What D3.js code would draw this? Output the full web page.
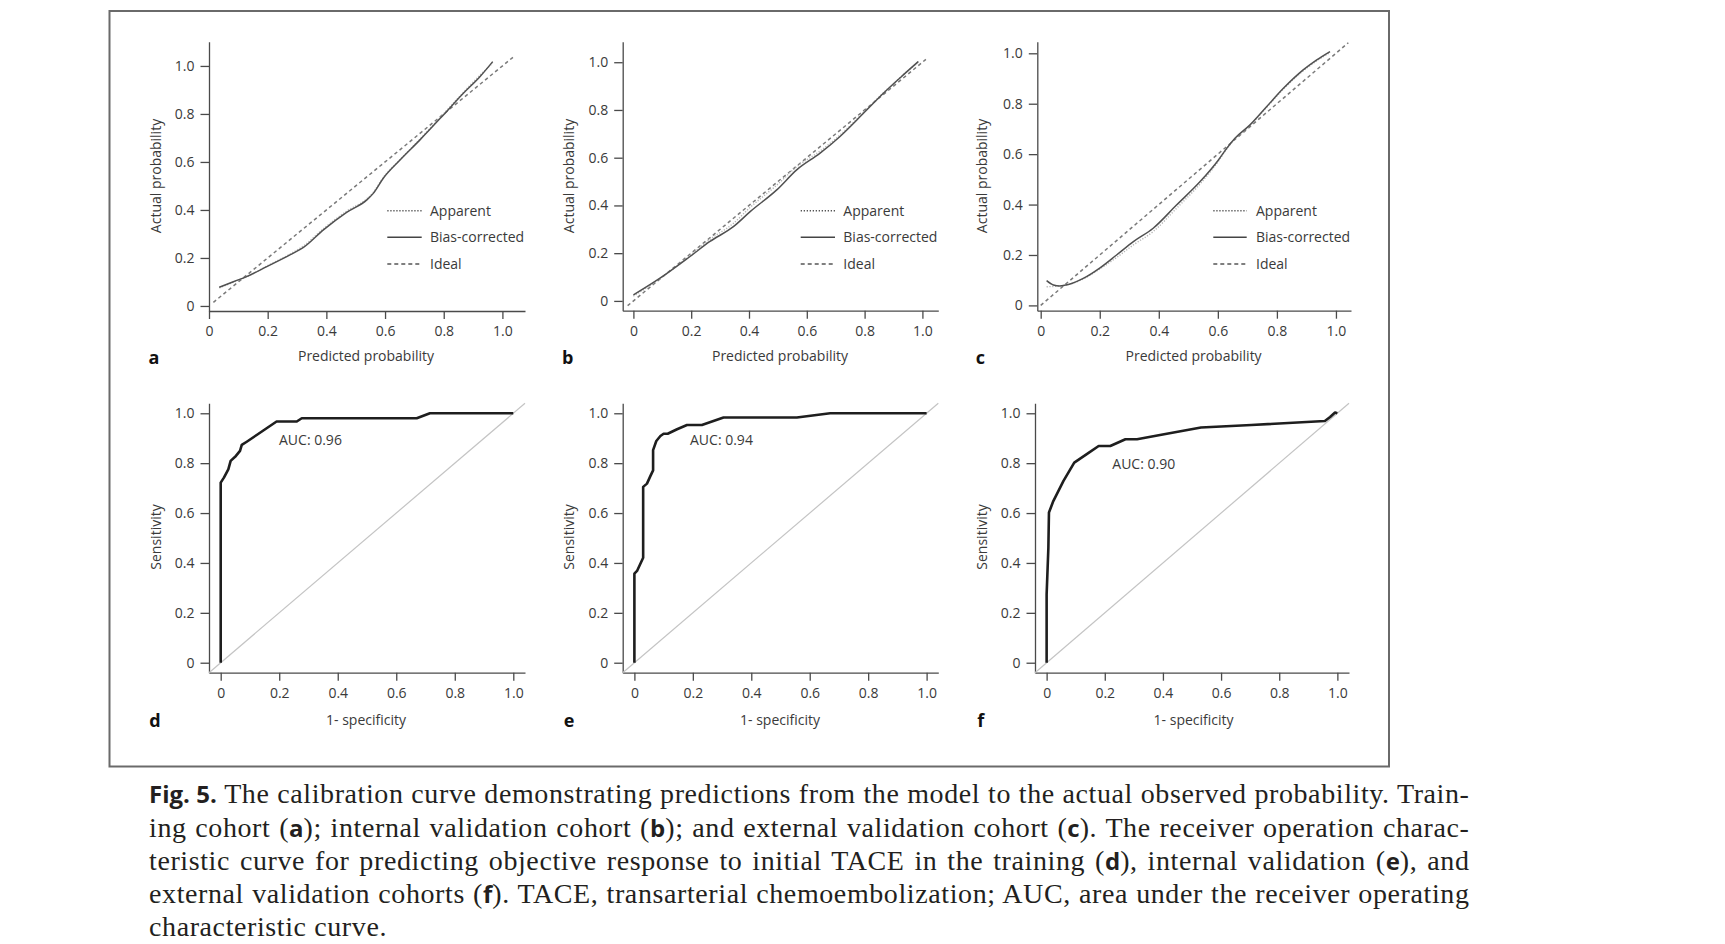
<!DOCTYPE html>
<html><head><meta charset="utf-8">
<script src="https://cdn.jsdelivr.net/npm/d3@7"></script>
<style>body{margin:0;background:#fff}</style>
</head><body>
<svg id="chart" width="1725" height="944"></svg>
<script>
// ---------------- DATA ----------------
const tickValues = [0, 0.2, 0.4, 0.6, 0.8, 1.0];
const tickLabels = ["0", "0.2", "0.4", "0.6", "0.8", "1.0"];

const legendLabels = ["Apparent", "Bias-corrected", "Ideal"];
const calXTitle = "Predicted probability";
const calYTitle = "Actual probability";
const rocXTitle = "1- specificity";
const rocYTitle = "Sensitivity";

// Calibration a (training)
const calA_pred     = [0.035, 0.083, 0.128, 0.197, 0.276, 0.322, 0.390, 0.469, 0.538, 0.560, 0.594, 0.651, 0.719, 0.799, 0.867, 0.924, 0.967];
const calA_bias     = [0.078, 0.101, 0.122, 0.164, 0.213, 0.244, 0.317, 0.390, 0.442, 0.469, 0.532, 0.608, 0.692, 0.796, 0.886, 0.956, 1.018];
const calA_apparent = [0.075, 0.099, 0.121, 0.166, 0.216, 0.250, 0.322, 0.395, 0.447, 0.474, 0.535, 0.610, 0.695, 0.800, 0.890, 0.962, 1.012];
const calA_ideal    = [0.015, 1.037];

// Calibration b (internal validation)
const calB_pred     = [0.000, 0.092, 0.196, 0.265, 0.346, 0.404, 0.496, 0.565, 0.646, 0.715, 0.796, 0.865, 0.934, 0.986];
const calB_bias     = [0.025, 0.095, 0.186, 0.249, 0.311, 0.374, 0.465, 0.549, 0.619, 0.689, 0.786, 0.870, 0.947, 1.003];
const calB_apparent = [0.020, 0.093, 0.190, 0.258, 0.325, 0.392, 0.485, 0.562, 0.628, 0.695, 0.790, 0.872, 0.948, 1.000];
const calB_ideal    = [-0.02, 1.012];

// Calibration c (external validation)
const calC_pred     = [0.020, 0.043, 0.065, 0.094, 0.144, 0.201, 0.257, 0.314, 0.381, 0.460, 0.540, 0.602, 0.630, 0.658, 0.709, 0.765, 0.822, 0.889, 0.935, 0.980];
const calC_bias     = [0.098, 0.081, 0.077, 0.083, 0.107, 0.149, 0.200, 0.253, 0.306, 0.398, 0.491, 0.577, 0.623, 0.663, 0.716, 0.788, 0.861, 0.934, 0.974, 1.007];
const calC_apparent = [0.074, 0.075, 0.077, 0.083, 0.105, 0.145, 0.190, 0.240, 0.293, 0.385, 0.482, 0.572, 0.620, 0.660, 0.714, 0.785, 0.858, 0.930, 0.970, 1.003];
const calC_ideal    = [0.0, 1.042];

// ROC d (training)
const rocD_fpr = [0, 0, 0.011, 0.026, 0.034, 0.052, 0.066, 0.072, 0.089, 0.123, 0.157, 0.191, 0.260, 0.277, 0.670, 0.715, 1.0];
const rocD_tpr = [0, 0.722, 0.742, 0.775, 0.809, 0.829, 0.849, 0.873, 0.886, 0.913, 0.940, 0.967, 0.967, 0.980, 0.980, 1.0, 1.0];
const rocD_auc = "AUC: 0.96";

// ROC e (internal validation)
const rocE_fpr = [0, 0, 0.009, 0.030, 0.030, 0.043, 0.055, 0.064, 0.064, 0.075, 0.089, 0.100, 0.114, 0.146, 0.180, 0.231, 0.305, 0.556, 0.670, 1.0];
const rocE_tpr = [0, 0.357, 0.368, 0.421, 0.705, 0.718, 0.749, 0.771, 0.852, 0.889, 0.909, 0.918, 0.918, 0.936, 0.953, 0.953, 0.983, 0.983, 1.0, 1.0];
const rocE_auc = "AUC: 0.94";

// ROC f (external validation)
const rocF_fpr = [0, 0, 0.006, 0.008, 0.023, 0.058, 0.095, 0.138, 0.179, 0.219, 0.271, 0.311, 0.404, 0.531, 0.704, 0.957, 0.975, 0.992, 1.0];
const rocF_tpr = [0, 0.274, 0.461, 0.602, 0.648, 0.729, 0.802, 0.836, 0.869, 0.869, 0.896, 0.896, 0.916, 0.943, 0.953, 0.969, 0.985, 1.003, 1.0];
const rocF_auc = "AUC: 0.90";

const panelLetters = ["a", "b", "c", "d", "e", "f"];

// Caption lines; [x] marks bold sans segments
const captionLines = [
  "[Fig. 5.] The calibration curve demonstrating predictions from the model to the actual observed probability. Train-",
  "ing cohort ([a]); internal validation cohort ([b]); and external validation cohort ([c]). The receiver operation charac-",
  "teristic curve for predicting objective response to initial TACE in the training ([d]), internal validation ([e]), and",
  "external validation cohorts ([f]). TACE, transarterial chemoembolization; AUC, area under the receiver operating",
  "characteristic curve."
];

// ---------------- LAYOUT ----------------
const svg = d3.select("#chart");
svg.append("rect").attr("width", 1725).attr("height", 944).attr("fill", "#fff");
svg.append("rect").attr("x", 109.5).attr("y", 11).attr("width", 1279.5).attr("height", 755.5)
  .attr("fill", "none").attr("stroke", "#6a6a6a").attr("stroke-width", 2);

const SANS = "'Open Sans', 'Noto Sans', sans-serif";
const txtColor = "#3a3a3a";

const calPanels = [
  {pred: calA_pred, bias: calA_bias, app: calA_apparent, ideal: calA_ideal, letter: panelLetters[0],
   px: [209, 525], py: [311, 41.7], xd: [0, 1.077], yd: [-0.021, 1.101],
   letterPos: [154, 364], xt: [366, 360.5], yt: [161, 176], leg: [387.3, 421.7, 430]},
  {pred: calB_pred, bias: calB_bias, app: calB_apparent, ideal: calB_ideal, letter: panelLetters[1],
   px: [622.7, 938.3], py: [310.7, 41.7], xd: [-0.037, 1.055], yd: [-0.041, 1.086],
   letterPos: [567.7, 364], xt: [780, 360.5], yt: [573.8, 176], leg: [800.7, 835, 843.3]},
  {pred: calC_pred, bias: calC_bias, app: calC_apparent, ideal: calC_ideal, letter: panelLetters[2],
   px: [1037.3, 1351], py: [310.7, 41.7], xd: [-0.0115, 1.051], yd: [-0.021, 1.046],
   letterPos: [980.5, 364], xt: [1193.6, 360.5], yt: [987.4, 176], leg: [1213.3, 1246.7, 1256]}
];

const rocPanels = [
  {fpr: rocD_fpr, tpr: rocD_tpr, auc: rocD_auc, letter: panelLetters[3],
   px: [209, 525], py: [672.7, 403.3], aucPos: [279, 445],
   letterPos: [155, 727], xt: [366, 724.5], yt: [161, 537]},
  {fpr: rocE_fpr, tpr: rocE_tpr, auc: rocE_auc, letter: panelLetters[4],
   px: [622.7, 938.3], py: [672.7, 403.3], aucPos: [690, 445],
   letterPos: [569, 727], xt: [780, 724.5], yt: [574, 537]},
  {fpr: rocF_fpr, tpr: rocF_tpr, auc: rocF_auc, letter: panelLetters[5],
   px: [1035, 1349], py: [672.7, 403.3], aucPos: [1112.3, 469],
   letterPos: [980.7, 727], xt: [1193.6, 724.5], yt: [987, 537]}
];

function drawAxes(x, y) {
  const gx = svg.append("g").attr("transform", `translate(0,${y.range()[0]})`)
    .call(d3.axisBottom(x).tickValues(tickValues).tickFormat((d, i) => tickLabels[i])
      .tickSize(8).tickPadding(7).tickSizeOuter(0));
  const gy = svg.append("g").attr("transform", `translate(${x.range()[0]},0)`)
    .call(d3.axisLeft(y).tickValues(tickValues).tickFormat((d, i) => tickLabels[i])
      .tickSize(8.5).tickPadding(6).tickSizeOuter(0));
  [gx, gy].forEach(g => {
    g.selectAll("path,line").attr("stroke", "#4a4a4a").attr("stroke-width", 1.3);
    g.selectAll("text").attr("font-family", SANS).attr("font-size", 14).attr("fill", txtColor);
  });
}

function titles(p, xTitle, yTitle) {
  svg.append("text").attr("x", p.xt[0]).attr("y", p.xt[1]).attr("text-anchor", "middle")
    .attr("font-family", SANS).attr("font-size", 14).attr("fill", txtColor).text(xTitle);
  svg.append("text").attr("transform", `translate(${p.yt[0]},${p.yt[1]}) rotate(-90)`)
    .attr("text-anchor", "middle").attr("font-family", SANS).attr("font-size", 14)
    .attr("fill", txtColor).text(yTitle);
  svg.append("text").attr("x", p.letterPos[0]).attr("y", p.letterPos[1]).attr("text-anchor", "middle")
    .attr("font-family", SANS).attr("font-weight", 700).attr("font-size", 18).attr("fill", "#111").text(p.letter);
}

// Calibration panels
calPanels.forEach(p => {
  const x = d3.scaleLinear().domain(p.xd).range(p.px);
  const y = d3.scaleLinear().domain(p.yd).range(p.py);
  drawAxes(x, y);
  titles(p, calXTitle, calYTitle);
  const line = d3.line().x(d => x(d[0])).y(d => y(d[1])).curve(d3.curveMonotoneX);
  svg.append("path").datum([[p.ideal[0], p.ideal[0]], [p.ideal[1], p.ideal[1]]])
    .attr("d", d3.line().x(d => x(d[0])).y(d => y(d[1])))
    .attr("fill", "none").attr("stroke", "#7a7a7a").attr("stroke-width", 1.5).attr("stroke-dasharray", "3.5,3");
  svg.append("path").datum(p.pred.map((v, i) => [v, p.app[i]])).attr("d", line)
    .attr("fill", "none").attr("stroke", "#b5b5b5").attr("stroke-width", 1.4).attr("stroke-dasharray", "1.2,1.6");
  svg.append("path").datum(p.pred.map((v, i) => [v, p.bias[i]])).attr("d", line)
    .attr("fill", "none").attr("stroke", "#505050").attr("stroke-width", 1.5);
  const rows = [210.7, 237.3, 264];
  const styles = [
    {stroke: "#555", dash: "1.3,1.7", w: 1.4},
    {stroke: "#444", dash: null, w: 1.6},
    {stroke: "#555", dash: "4,3", w: 1.5}
  ];
  legendLabels.forEach((lab, i) => {
    svg.append("line").attr("x1", p.leg[0]).attr("x2", p.leg[1]).attr("y1", rows[i]).attr("y2", rows[i])
      .attr("stroke", styles[i].stroke).attr("stroke-width", styles[i].w)
      .attr("stroke-dasharray", styles[i].dash);
    svg.append("text").attr("x", p.leg[2]).attr("y", rows[i] + 5).attr("font-family", SANS)
      .attr("font-size", 14).attr("fill", txtColor).text(lab);
  });
});

// ROC panels
rocPanels.forEach(p => {
  const x = d3.scaleLinear().domain([-0.04, 1.04]).range(p.px);
  const y = d3.scaleLinear().domain([-0.04, 1.04]).range(p.py);
  drawAxes(x, y);
  titles(p, rocXTitle, rocYTitle);
  svg.append("path").datum([[-0.04, -0.04], [1.04, 1.04]])
    .attr("d", d3.line().x(d => x(d[0])).y(d => y(d[1])))
    .attr("fill", "none").attr("stroke", "#c4c4c4").attr("stroke-width", 1.2);
  svg.append("path").datum(p.fpr.map((v, i) => [v, p.tpr[i]]))
    .attr("d", d3.line().x(d => x(d[0])).y(d => y(d[1])))
    .attr("fill", "none").attr("stroke", "#1e1e1e").attr("stroke-width", 2.6)
    .attr("stroke-linejoin", "round");
  svg.append("text").attr("x", p.aucPos[0]).attr("y", p.aucPos[1]).attr("font-family", SANS)
    .attr("font-size", 14).attr("fill", txtColor).text(p.auc);
});

// Caption
const capX = 149, capW = 1320.5;
captionLines.forEach((ln, i) => {
  const t = svg.append("text").attr("x", capX).attr("y", 803.3 + i * 33.2)
    .attr("font-family", "'Liberation Serif', 'Times New Roman', serif")
    .attr("font-size", 28).attr("fill", "#231f20").style("letter-spacing", "0.6px");
  ln.split(/\[|\]/).forEach((s, k) => {
    if (!s) return;
    const ts = t.append("tspan").text(s);
    if (k % 2 === 1) ts.attr("font-family", SANS).attr("font-weight", 700).attr("font-size", 24)
      .style("letter-spacing", "0px");
  });
  if (i < captionLines.length - 1) {
    const w = t.node().getComputedTextLength();
    const plain = ln.replace(/\[|\]/g, "");
    const n = (plain.match(/ /g) || []).length;
    t.style("word-spacing", Math.max(0, (capW - w) / n) + "px");
  }
});
</script>
</body></html>
